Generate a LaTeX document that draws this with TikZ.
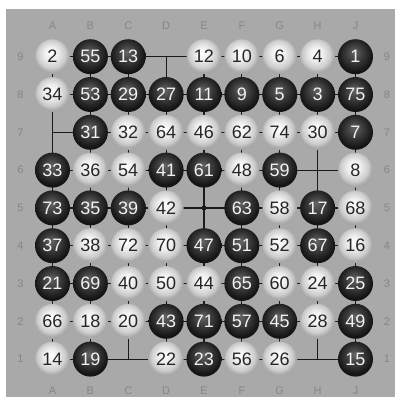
\documentclass[tikz,border=0pt]{standalone}
\usepackage{fontspec}
\setsansfont{Liberation Sans}
\usepackage{tikz}
\usetikzlibrary{calc}
\definecolor{boardgray}{HTML}{A9A9A9}
\definecolor{labelgray}{HTML}{868686}
\definecolor{gridblack}{HTML}{1A1A1A}
\pgfdeclareradialshading{whiteshade}{\pgfpoint{-3bp}{6bp}}{%
  color(0bp)=(white); color(10bp)=(white!93!black);
  color(20bp)=(white!80!black); color(25bp)=(white!66!black); color(50bp)=(white!66!black)}
\pgfdeclareradialshading{blackshade}{\pgfpoint{-2bp}{7bp}}{%
  color(0bp)=(black!60); color(10bp)=(black!74);
  color(20bp)=(black!86); color(25bp)=(black!92); color(50bp)=(black!92)}
\tikzset{
  gridline/.style={gridblack, line width=1.2pt},
  stone/.style={circle, minimum size=35pt, inner sep=0pt, font=\sffamily\fontsize{18}{18}\selectfont},
  whitestone/.style={stone, shading=whiteshade, text=black!85},
  blackstone/.style={stone, shading=blackshade, text=white!95!black},
  coordlabel/.style={text=labelgray, font=\sffamily\fontsize{11}{11}\selectfont},
  starpoint/.style={circle, fill=gridblack, inner sep=0pt, minimum size=5pt}
}
\begin{document}
\begin{tikzpicture}[x=1pt, y=-1pt]
  \useasboundingbox (0,0) rectangle (395,397);
  \fill[white] (0,0) rectangle (395,397);
  \fill[boardgray] (6,9) rectangle (395,397);
  % intersections
  \foreach \col [count=\i from 0] in {A,B,C,D,E,F,G,H,J} {
    \foreach \row in {1,...,9} {
      \coordinate (\col\row) at ({52.5+37.875*\i},{56.7+37.8*(9-\row)});
    }
  }
  % grid and edge labels
  \foreach \col in {A,B,C,D,E,F,G,H,J} {
    \draw[gridline] (\col9) -- (\col1);
    \node[coordlabel] (top\col) at ($(\col9)+(0,-31)$) {\col};
    \node[coordlabel] (bot\col) at ($(\col1)+(0,32)$) {\col};
  }
  \foreach \row in {1,...,9} {
    \draw[gridline] (A\row) -- (J\row);
    \node[coordlabel] (left\row) at ($(A\row)+(-32,0)$) {\row};
    \node[coordlabel] (right\row) at ($(J\row)+(31.5,0)$) {\row};
  }
  \node[starpoint] (tengen) at (E5) {};
  % stones
  \foreach \pos/\num in {A9/2, E9/12, F9/10, G9/6, H9/4, A8/34, C7/32, D7/64, E7/46,
      F7/62, G7/74, H7/30, B6/36, C6/54, F6/48, J6/8, D5/42, G5/58, J5/68, B4/38,
      C4/72, D4/70, G4/52, J4/16, C3/40, D3/50, E3/44, G3/60, H3/24, A2/66, B2/18,
      C2/20, H2/28, A1/14, D1/22, F1/56, G1/26}
    \node[whitestone] (s\pos) at (\pos) {\num};
  \foreach \pos/\num in {B9/55, C9/13, J9/1, B8/53, C8/29, D8/27, E8/11, F8/9, G8/5,
      H8/3, J8/75, B7/31, J7/7, A6/33, D6/41, E6/61, G6/59, A5/73, B5/35, C5/39,
      F5/63, H5/17, A4/37, E4/47, F4/51, H4/67, A3/21, B3/69, F3/65, J3/25, D2/43,
      E2/71, F2/57, G2/45, J2/49, B1/19, E1/23, J1/15}
    \node[blackstone] (s\pos) at (\pos) {\num};
\end{tikzpicture}
\end{document}
